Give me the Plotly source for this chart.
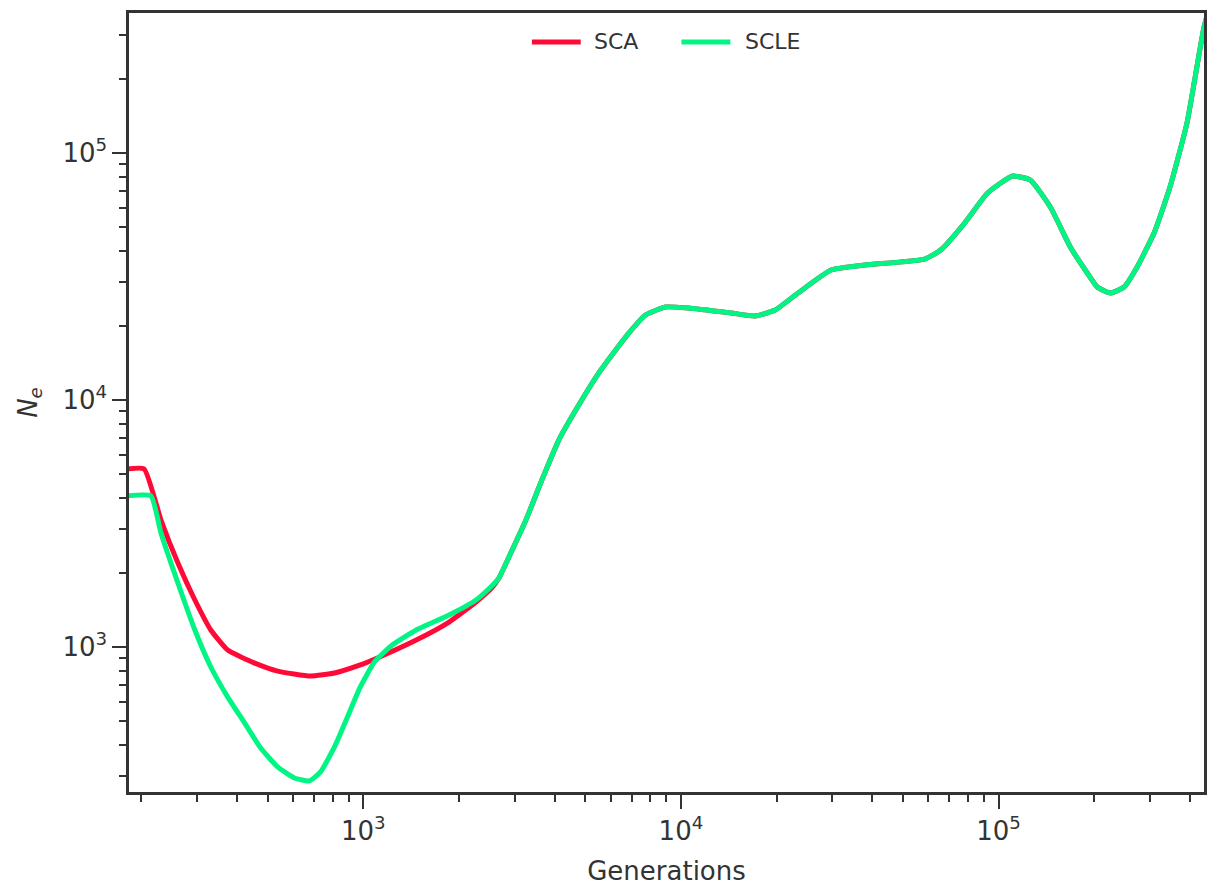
import plotly.graph_objects as go

# Effective population size histories (generations vs N_e)
sca_gen = [180, 204, 230.5, 260.6, 294.7, 330.8, 374, 454.8, 537, 681.6, 811, 978,
           1107, 1467, 1862, 2263, 2541]
sca_ne = [5260, 5260, 3266, 2188, 1550, 1172, 972, 861, 799, 763, 785, 846,
          903, 1067, 1262, 1521, 1740]

scle_gen = [180, 214.4, 230.5, 260.6, 294.7, 330.8, 374, 423, 475, 537, 607, 677,
            733, 811, 891, 978, 1083, 1233, 1467, 1862, 2263, 2541]
scle_ne = [4090, 4090, 2894, 1816, 1172, 830, 627, 492, 390, 327, 295, 287,
           312, 394, 521, 689, 870, 1019, 1172, 1348, 1550, 1770]

# Shared history for older times, where both estimates coincide
shared_gen = [2673, 2873, 3250, 3648, 4125, 4665, 5508, 6694, 7736, 8941, 10560,
              14410, 17130, 19800, 23380, 29690, 37960, 58570, 65740, 78220, 92370,
              110700, 126000, 145600, 168300, 190300, 204600, 224700, 248600, 273200,
              308900, 346700, 392100, 443600, 470000]
shared_ne = [1903, 2314, 3267, 4745, 6887, 9110, 12860, 17990, 22090, 23800, 23580,
             22500, 21880, 23140, 27130, 33600, 35210, 37230, 40490, 52070, 68890,
             80700, 77740, 60450, 41630, 32680, 28680, 27130, 28680, 34550,
             47450, 72840, 132300, 323700, 420000]

x_major = [1e3, 1e4, 1e5]
x_major_text = ["10<sup>3</sup>", "10<sup>4</sup>", "10<sup>5</sup>"]
y_major = [1e3, 1e4, 1e5]
y_major_text = ["10<sup>3</sup>", "10<sup>4</sup>", "10<sup>5</sup>"]

series_names = ["SCA", "SCLE"]

RED = "#ff0a37"
GREEN = "#00f584"
INK = "#333333"
FONT = "DejaVu Sans"
LW = 5

minor_vals = [k * 10 ** e for e in range(1, 7) for k in range(2, 10)]

fig = go.Figure()
fig.add_trace(go.Scatter(x=sca_gen + shared_gen, y=sca_ne + shared_ne, mode="lines",
                         name=series_names[0],
                         line=dict(color=RED, width=LW, shape="spline", smoothing=0.45)))
fig.add_trace(go.Scatter(x=scle_gen + shared_gen, y=scle_ne + shared_ne, mode="lines",
                         name=series_names[1],
                         line=dict(color=GREEN, width=LW, shape="spline", smoothing=0.45)))

axis_common = dict(
    type="log", showline=True, mirror=True, linecolor=INK, linewidth=2.5,
    ticks="outside", ticklen=14, tickwidth=2, tickcolor=INK,
    showgrid=False, zeroline=False,
    tickfont=dict(family=FONT, size=26, color=INK),
    minor=dict(ticks="outside", ticklen=7, tickwidth=1.5, tickcolor=INK,
               tickvals=minor_vals, showgrid=False),
)

# Legend drawn as line swatches + labels across the top of the axes
legend_items = [
    (series_names[0], RED, 0.3748, 0.4202, 0.4304),
    (series_names[1], GREEN, 0.5139, 0.5594, 0.5714),
]
shapes, annotations = [], []
for name, color, x0, x1, xt in legend_items:
    shapes.append(dict(type="line", xref="paper", yref="paper", x0=x0, x1=x1,
                       y0=0.9628, y1=0.9628, line=dict(color=color, width=LW)))
    annotations.append(dict(text=name, xref="paper", yref="paper", x=xt, y=0.9628,
                            xanchor="left", yanchor="middle", showarrow=False,
                            font=dict(family=FONT, size=22, color=INK)))

fig.update_layout(
    width=1208, height=886,
    margin=dict(l=129, r=1, t=13, b=94),
    paper_bgcolor="white", plot_bgcolor="white",
    font=dict(family=FONT, color=INK),
    xaxis=dict(axis_common, range=[2.262, 5.647], tickvals=x_major, ticktext=x_major_text,
               title=dict(text="Generations", font=dict(family=FONT, size=26, color=INK),
                          standoff=18)),
    yaxis=dict(axis_common, range=[2.413, 5.567], tickvals=y_major, ticktext=y_major_text,
               title=dict(text="<i>N<sub>e</sub></i>", font=dict(family=FONT, size=26, color=INK),
                          standoff=18)),
    shapes=shapes,
    annotations=annotations,
    showlegend=False,
)

fig.write_html("out.html")
